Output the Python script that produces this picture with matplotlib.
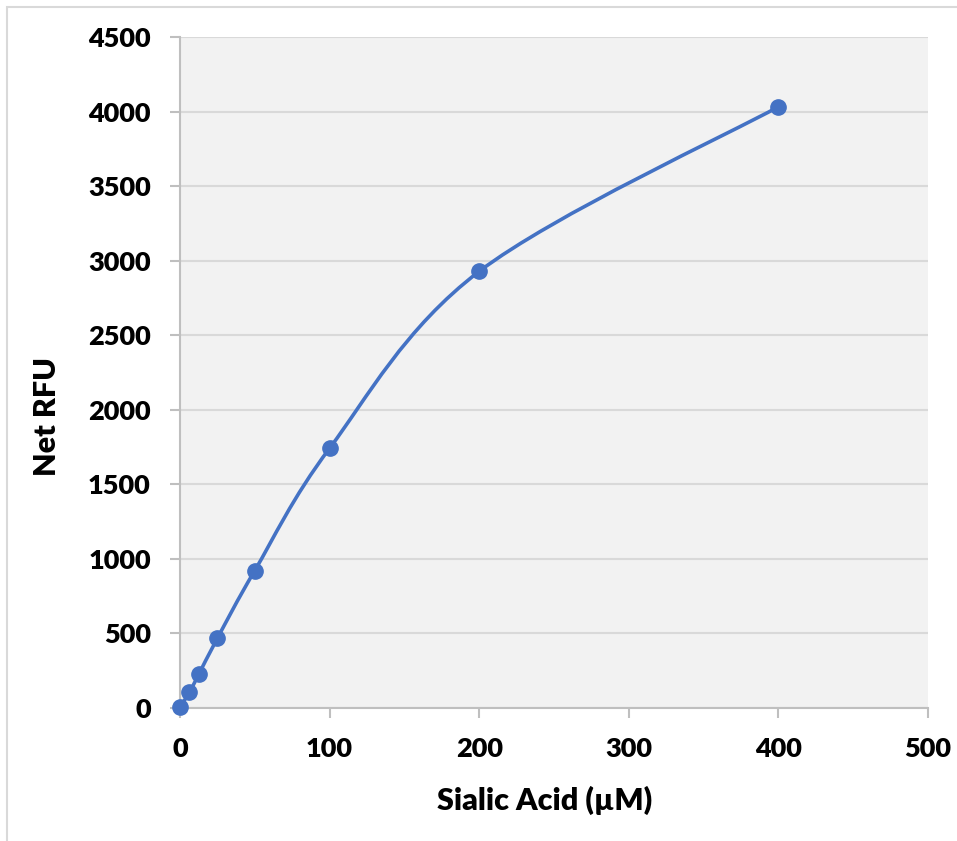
import numpy as np
import matplotlib.pyplot as plt
from matplotlib.path import Path
from matplotlib.patches import PathPatch, Rectangle

### data ###
sialic_acid = [0, 6.25, 12.5, 25, 50, 100, 200, 400]
net_rfu = [5, 105, 225, 468, 922, 1742, 2928, 4032]
x_ticks = [0, 100, 200, 300, 400, 500]
y_ticks = [0, 500, 1000, 1500, 2000, 2500, 3000, 3500, 4000, 4500]

blue = '#4472C4'
font = 'Lato'

fig = plt.figure(figsize=(9.57, 8.41), dpi=100)
ax = fig.add_axes([180/957, 1-708/841, (928-180)/957, (708-37)/841])
ax.set_xlim(0, 500)
ax.set_ylim(0, 4500)
ax.set_facecolor('#f2f2f2')

# outer chart border (only top/left visible in the original crop)
fig.add_artist(Rectangle((7/957, -0.1), 1.2, 1-7/841+0.1, transform=fig.transFigure,
                         fill=False, edgecolor='#d9d9d9', linewidth=1.5))

### Excel-like smoothed line: bezier through points, computed in pixel space ###
pts = ax.transData.transform(np.column_stack([sialic_acid, net_rfu]))
ext = np.vstack([pts[0], pts, pts[-1]])
verts = [pts[0]]
codes = [Path.MOVETO]
for i in range(len(pts) - 1):
    p0, p1, p2, p3 = ext[i], ext[i+1], ext[i+2], ext[i+3]
    c1 = p1 + (p2 - p0) / 6.0
    c2 = p2 - (p3 - p1) / 6.0
    verts += [c1, c2, p2]
    codes += [Path.CURVE4] * 3
verts = ax.transData.inverted().transform(np.array(verts))
ax.add_patch(PathPatch(Path(verts, codes), facecolor='none', edgecolor=blue,
                       linewidth=2.6, zorder=3, capstyle='round', clip_on=False))
ax.plot(sialic_acid, net_rfu, 'o', color=blue, markersize=11, zorder=4, clip_on=False)

### axes styling ###
ax.set_xticks(x_ticks)
ax.set_yticks(y_ticks)
ax.grid(axis='y', color='#d9d9d9', linewidth=1.5)
ax.set_axisbelow(True)
for s in ['top', 'right']:
    ax.spines[s].set_visible(False)
for s in ['left', 'bottom']:
    ax.spines[s].set_color('#bfbfbf')
    ax.spines[s].set_linewidth(1.5)
ax.tick_params(axis='both', direction='out', length=7, width=1.5, color='#bfbfbf',
               labelsize=19.5, pad=14)
for lab in ax.get_xticklabels() + ax.get_yticklabels():
    lab.set_fontfamily(font)
    lab.set_fontweight('heavy')

fig.text(545/957, 1-800/841, 'Sialic Acid (µM)', ha='center', va='center',
         fontsize=22, fontweight='heavy', family=font)
fig.text(47/957, 1-416/841, 'Net RFU', ha='center', va='center', rotation=90,
         fontsize=22, fontweight='heavy', family=font)

plt.savefig('out.png', dpi=100)
